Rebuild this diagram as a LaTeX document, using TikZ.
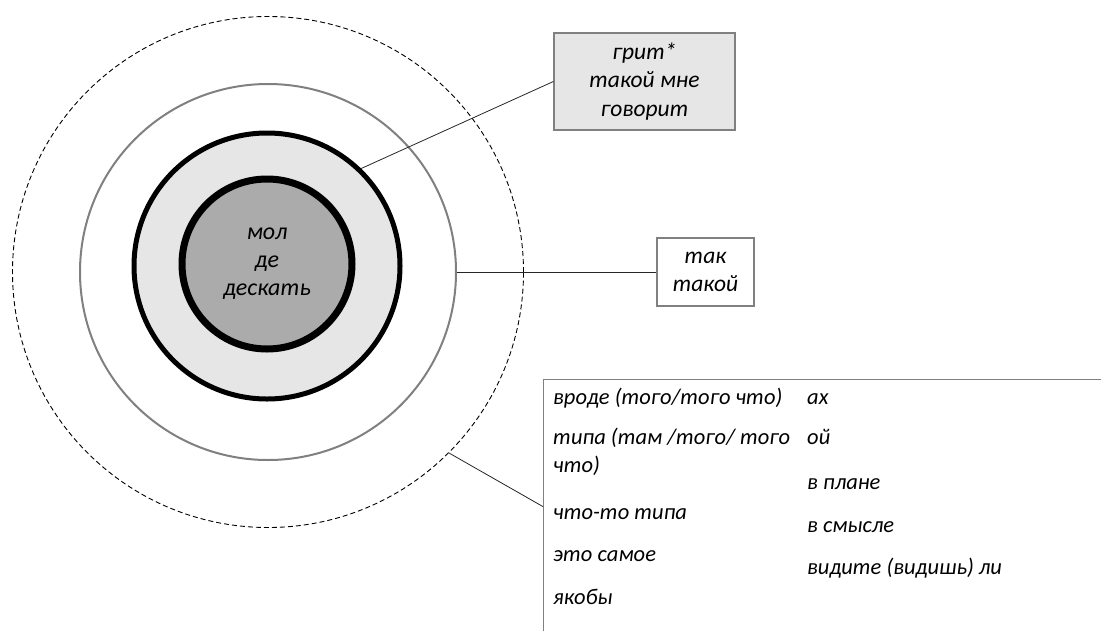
\documentclass[tikz,border=0pt]{standalone}
\usepackage{fontspec}
\setmainfont{Carlito}
\usepackage{xcolor}
\usepackage{tikz}
\usetikzlibrary{positioning}

\definecolor{frame}{HTML}{808080}
\definecolor{corefill}{HTML}{ABABAB}
\definecolor{bandfill}{HTML}{E6E6E6}

\begin{document}
\begin{tikzpicture}[x=1pt, y=-1pt,
    every node/.style={align=center, font=\itshape\fontsize{24}{28}\selectfont},
    layer/.style={circle, inner sep=0pt},
    core/.style={layer, draw=black, line width=7pt, fill=corefill, minimum size=170pt},
    band/.style={layer, draw=black, line width=5pt, fill=bandfill, minimum size=266pt},
    zone/.style={layer, draw=frame, line width=2pt, minimum size=376pt},
    halo/.style={layer, draw=black, line width=0.9pt, dash pattern=on 5pt off 3pt, minimum size=511pt},
    wordbox/.style={draw=frame, line width=1.2pt, inner sep=0pt, font=\itshape\fontsize{23.5}{28.5}\selectfont},
    column/.style={anchor=north west, align=left, inner sep=0pt, font=\itshape\fontsize{22.5}{28}\selectfont},
    link/.style={draw=black!85, line width=0.8pt}
]
\useasboundingbox (0,0) rectangle (1101,630);

% rings
\node[halo] (halo) at (268,272) {};
\node[zone] (zone) at (268,272) {};
\node[band] (band) at (267,266) {};
\node[core] (core) at (267,264) {мол\\де\\дескать};

% boxes
\node[wordbox, fill=bandfill, minimum width=181pt, minimum height=97pt] (grit) at (644.5,81.5) {грит*\\такой мне\\говорит};
\node[wordbox, minimum width=97pt, minimum height=68pt] (tak) at (705.5,272) {так\\такой};
\node[wordbox, anchor=north west, minimum width=570pt, minimum height=254pt] (list) at (543,379) {};

\node[column] (list left) at (553,385) {\strut вроде (того/того что)\\[12pt]
    типа (там /того/ того\\что)\\[19pt]
    что-то типа\\[14pt]
    это самое\\[15pt]
    якобы};
\node[column] (list right) at (807,385) {\strut ах\\[12pt]
    ой\\[17pt]
    в плане\\[15pt]
    в смысле\\[14pt]
    видите (видишь) ли};

% connectors
\draw[link] (band.46) -- (grit.west);
\draw[link] (zone.east) -- (tak.west);
\draw[link] (halo.-45) -- (list.west);
\end{tikzpicture}
\end{document}
